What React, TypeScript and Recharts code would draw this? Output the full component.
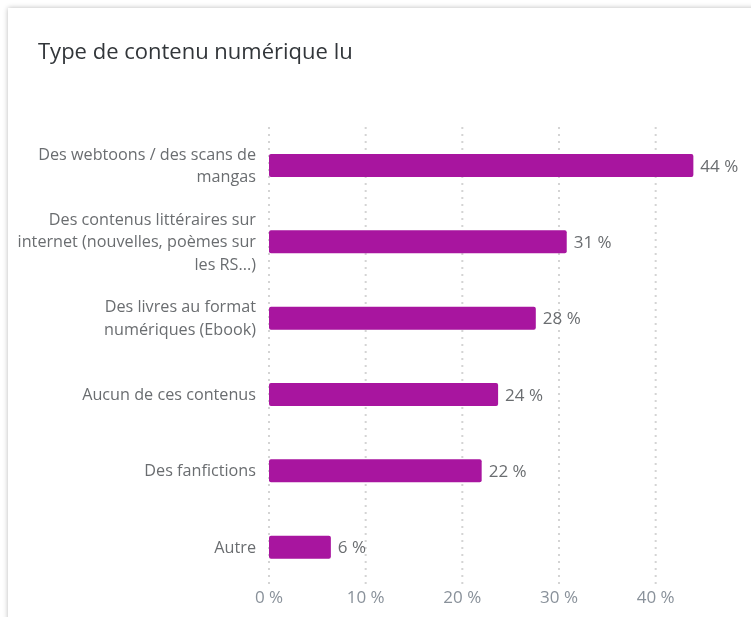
import React from "react";
import { BarChart, Bar, XAxis, YAxis, CartesianGrid, LabelList } from "recharts";

const categories = [
  "Des webtoons / des scans de\nmangas",
  "Des contenus littéraires sur\ninternet (nouvelles, poèmes sur\nles RS...)",
  "Des livres au format\nnumériques (Ebook)",
  "Aucun de ces contenus",
  "Des fanfictions",
  "Autre",
];
const values = [43.9, 30.8, 27.6, 23.7, 22.0, 6.4];
const xTicks = [0, 10, 20, 30, 40];
const xMax = 45;

const data = categories.map((c, i) => ({ name: c, value: values[i] }));

const FONT = "'Open Sans', sans-serif";

const YTick = (props: any) => {
  const { x, y, payload } = props;
  const lines: string[] = String(payload.value).split("\n");
  const lh = 22.5;
  const start = -((lines.length - 1) * lh) / 2;
  return (
    <text
      x={x}
      y={y + start}
      textAnchor="end"
      fill="#6a6d70"
      fontSize={16.2}
      fontFamily={FONT}
    >
      {lines.map((l, i) => (
        <tspan key={i} x={x} dy={i === 0 ? "0.35em" : lh}>
          {l}
        </tspan>
      ))}
    </text>
  );
};

export default function App() {
  return (
    <div
      style={{
        position: "fixed",
        left: 8,
        top: 8,
        width: 760,
        height: 620,
        background: "#fff",
        boxShadow: "0 0 5px rgba(0,0,0,0.28)",
      }}
    >
      <div
        style={{
          position: "absolute",
          left: 30,
          top: 27,
          fontFamily: FONT,
          fontSize: 22,
          color: "#32363a",
          whiteSpace: "nowrap",
        }}
      >
        Type de contenu numérique lu
      </div>
      <BarChart
        width={743}
        height={609}
        data={data}
        layout="vertical"
        margin={{ top: 119, right: 47, bottom: 0, left: 0 }}
      >
        <CartesianGrid
          horizontal={false}
          vertical={true}
          stroke="#d4d4d4"
          strokeWidth={2}
          strokeDasharray="2 5"
          verticalCoordinatesGenerator={(p: any) => {
            const off = p.offset;
            return xTicks.map((t) => off.left + (t / xMax) * off.width);
          }}
        />
        <XAxis
          type="number"
          domain={[0, xMax]}
          ticks={xTicks}
          axisLine={false}
          tickLine={false}
          height={32}
          tickMargin={0}
          tick={{ fill: "#89919a", fontSize: 17, fontFamily: FONT }}
          tickFormatter={(v: number) => `${v} %`}
        />
        <YAxis
          type="category"
          dataKey="name"
          width={261}
          axisLine={false}
          tickLine={false}
          tick={<YTick />}
          tickMargin={7}
          interval={0}
        />
        <Bar
          dataKey="value"
          fill="#a8159f"
          barSize={23}
          radius={[2, 2, 2, 2]}
          isAnimationActive={false}
        >
          <LabelList
            dataKey="value"
            position="right"
            offset={7}
            formatter={(v: any) => `${Math.round(Number(v))} %`}
            fill="#6a6d70"
            fontSize={17}
            fontFamily={FONT}
          />
        </Bar>
      </BarChart>
    </div>
  );
}
